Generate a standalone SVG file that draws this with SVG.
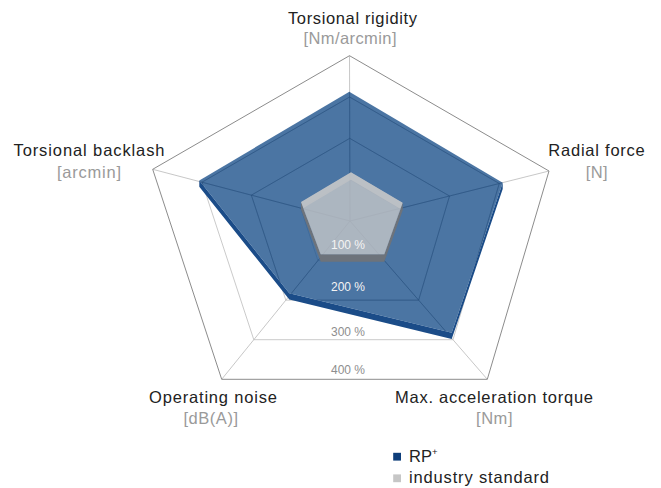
<svg xmlns="http://www.w3.org/2000/svg" width="661" height="488" viewBox="0 0 661 488">
<style>
  .ttl { font-family: "Liberation Sans", Arial, Helvetica, sans-serif; font-size: 16.5px; fill: #222; }
  .unit { font-family: "Liberation Sans", Arial, Helvetica, sans-serif; font-size: 16.5px; fill: #9a9a9a; }
  .pct { font-family: "Liberation Sans", Arial, Helvetica, sans-serif; font-size: 12px; text-anchor: middle; }
  .ring { fill: none; stroke: #bdbdbd; stroke-width: 0.8; }
  .outer { fill: none; stroke: #8c8c8c; stroke-width: 1; }
  .spoke { stroke: #b9b9b9; stroke-width: 0.8; }
  .inner { fill: none; stroke: #234a78; stroke-width: 0.8; stroke-opacity: 0.55; }
</style>
<defs>
  <clipPath id="grayTop">
    <polygon points="351,172.3 402.7,202.7 384.3,254.3 320.7,254.3 301,202"/>
  </clipPath>
  <clipPath id="blueTop">
    <polygon points="349.3,91.7 502.7,182.7 451.7,332.7 289.3,293.3 199.3,180.5"/>
  </clipPath>
</defs>
<rect width="661" height="488" fill="#ffffff"/>

<g id="grid">
  <line class="spoke" x1="350" y1="221" x2="349.5" y2="55.7"/>
  <line class="spoke" x1="350" y1="221" x2="549" y2="171"/>
  <line class="spoke" x1="350" y1="221" x2="487.3" y2="379.3"/>
  <line class="spoke" x1="350" y1="221" x2="221.7" y2="379.3"/>
  <line class="spoke" x1="350" y1="221" x2="152.7" y2="169.3"/>
  <polygon class="ring" points="349.9,179.7 399.75,208.5 384.3,260.6 317.9,260.6 300.7,208.1"/>
  <polygon class="ring" points="349.75,138.35 449.5,196 418.65,300.15 285.85,300.15 251.35,195.15"/>
  <polygon class="ring" points="349.6,97 499.25,183.5 452.97,339.7 253.8,339.7 202,182.2"/>
  <polygon class="outer" points="349.5,55.7 549,171 487.3,379.3 221.7,379.3 152.7,169.3"/>
</g>

<g id="series-rp">
  <path fill="#1b4c88" fill-rule="evenodd" d="M349.3,91.7 L502.7,182.7 L502.7,189 L451.7,339 L289.3,299.6 L199.3,186.8 L199.3,180.5 Z M349.3,91.7 L502.7,182.7 L451.7,332.7 L289.3,293.3 L199.3,180.5 Z"/>
  <polygon fill="#1e528c" fill-opacity="0.8" points="349.3,91.7 502.7,182.7 451.7,332.7 289.3,293.3 199.3,180.5"/>
  <g clip-path="url(#blueTop)">
    <line class="inner" x1="350" y1="221" x2="349.5" y2="55.7"/>
    <line class="inner" x1="350" y1="221" x2="549" y2="171"/>
    <line class="inner" x1="350" y1="221" x2="487.3" y2="379.3"/>
    <line class="inner" x1="350" y1="221" x2="221.7" y2="379.3"/>
    <line class="inner" x1="350" y1="221" x2="152.7" y2="169.3"/>
    <polygon class="inner" points="349.75,138.35 449.5,196 418.65,300.15 285.85,300.15 251.35,195.15"/>
    <polygon class="inner" points="349.6,97 499.25,183.5 452.97,339.7 253.8,339.7 202,182.2"/>
  </g>
</g>

<g id="series-industry">
  <path fill="#6d737b" fill-rule="evenodd" d="M351,172.3 L402.7,202.7 L402.7,210.2 L384.3,261.8 L320.7,261.8 L301,209.5 L301,202 Z M351,172.3 L402.7,202.7 L384.3,254.3 L320.7,254.3 L301,202 Z"/>
  <polygon fill="#c8c8c8" fill-opacity="0.78" points="351,172.3 402.7,202.7 384.3,254.3 320.7,254.3 301,202"/>
  <path clip-path="url(#grayTop)" fill="#c8c8c8" fill-opacity="0.55" fill-rule="evenodd" d="M351,172.3 L402.7,202.7 L384.3,254.3 L320.7,254.3 L301,202 Z M351,179.8 L402.7,210.2 L384.3,261.8 L320.7,261.8 L301,209.5 Z"/>
</g>

<g id="scale-labels">
  <text class="pct" x="348" y="249" fill="#f4f4f4">100 %</text>
  <text class="pct" x="348" y="290.7" fill="#f4f4f4">200 %</text>
  <text class="pct" x="348" y="335.7" fill="#8e8e8e">300 %</text>
  <text class="pct" x="348" y="374.3" fill="#8e8e8e">400 %</text>
</g>

<g id="axis-torsional-rigidity">
  <text class="ttl" x="288" y="23.5" textLength="129" lengthAdjust="spacing">Torsional rigidity</text>
  <text class="unit" x="303.5" y="43.8" textLength="93" lengthAdjust="spacing">[Nm/arcmin]</text>
</g>
<g id="axis-radial-force">
  <text class="ttl" x="548.3" y="156.2" textLength="96.5" lengthAdjust="spacing">Radial force</text>
  <text class="unit" x="585.7" y="177.8" textLength="22" lengthAdjust="spacing">[N]</text>
</g>
<g id="axis-max-acceleration-torque">
  <text class="ttl" x="395" y="402.8" textLength="198" lengthAdjust="spacing">Max. acceleration torque</text>
  <text class="unit" x="476" y="424" textLength="36.5" lengthAdjust="spacing">[Nm]</text>
</g>
<g id="axis-operating-noise">
  <text class="ttl" x="149" y="402.8" textLength="128" lengthAdjust="spacing">Operating noise</text>
  <text class="unit" x="183.5" y="424" textLength="54.5" lengthAdjust="spacing">[dB(A)]</text>
</g>
<g id="axis-torsional-backlash">
  <text class="ttl" x="13.5" y="156.2" textLength="151" lengthAdjust="spacing">Torsional backlash</text>
  <text class="unit" x="57" y="177.6" textLength="64" lengthAdjust="spacing">[arcmin]</text>
</g>

<g id="legend">
  <rect x="393.2" y="452.8" width="7.8" height="7.8" fill="#0e3e7a"/>
  <text class="ttl" x="409" y="461.8">RP<tspan font-size="9.5" dy="-6.5">+</tspan></text>
  <rect x="393.2" y="474.4" width="7.8" height="7.8" fill="#c6c6c6"/>
  <text class="ttl" x="409" y="483.4" textLength="140" lengthAdjust="spacing">industry standard</text>
</g>
</svg>
